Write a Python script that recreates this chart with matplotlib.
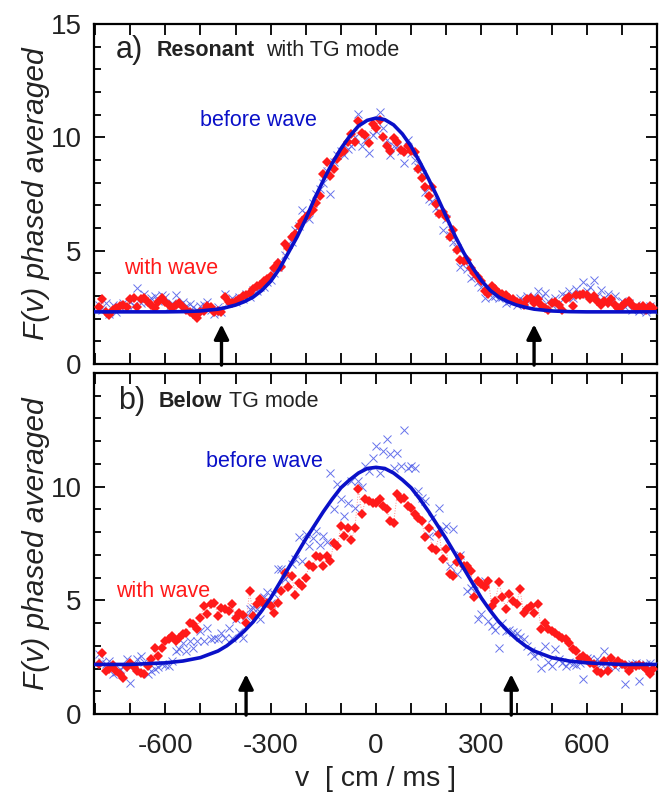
import matplotlib
matplotlib.use("Agg")
import matplotlib.pyplot as plt
import numpy as np

plt.rcParams['font.family'] = ['Liberation Sans', 'DejaVu Sans']
plt.rcParams['axes.unicode_minus'] = False

# velocity grid of the measured points, cm/ms
v_pts = np.arange(-790, 800, 10)

# a) resonant with TG mode
a_with = [2.5, 2.85, 2.3, 2.15, 2.4, 2.45, 2.55, 2.6, 2.5, 2.85,
          2.9, 2.5, 2.85, 2.9, 2.75, 2.6, 2.45, 2.75, 2.9, 2.75,
          2.6, 2.45, 2.6, 2.7, 2.5, 2.4, 2.3, 2.2, 2.05, 2.3,
          2.35, 2.55, 2.5, 2.3, 2.35, 2.3, 2.95, 2.75, 2.7, 2.8,
          2.85, 3.0, 3.05, 3.15, 3.3, 3.45, 3.5, 3.65, 3.75, 3.9,
          4.25, 4.45, 4.3, 5.3, 5.1, 5.6, 5.75, 6.1, 6.3, 6.5,
          6.6, 6.8, 7.1, 7.4, 8.4, 8.9, 8.3, 8.6, 9.05, 9.3,
          9.4, 9.8, 10.15, 9.8, 10.7, 10.2, 10.1, 9.75, 10.6, 10.4,
          10.75, 10.0, 9.6, 9.4, 9.95, 9.8, 9.45, 9.35, 9.6, 9.4,
          9.35, 8.6, 8.2, 7.8, 7.4, 7.8, 7.05, 6.6, 6.7, 6.5,
          5.6, 5.9, 5.05, 4.6, 4.55, 4.6, 4.25, 4.0, 3.85, 3.66,
          3.22, 3.07, 3.44, 3.29, 3.15, 3.1, 3.05, 2.92, 2.85, 2.75,
          2.7, 2.62, 2.85, 2.92, 2.7, 2.85, 2.6, 2.45, 2.4, 2.7,
          2.75, 2.6, 2.4, 2.85, 2.95, 2.55, 3.05, 3.05, 3.1, 3.05,
          2.85, 2.99, 2.8, 2.62, 2.77, 2.7, 2.85, 2.6, 2.47, 2.55,
          2.7, 2.77, 2.62, 2.47, 2.5, 2.55, 2.4, 2.55, 2.45]
a_before = [2.6, 2.4, 2.7, 2.2, 2.6, 2.3, 2.5, 2.7, 2.6, 2.75,
            2.6, 3.35, 2.7, 3.1, 2.8, 2.9, 3.0, 2.8, 3.05, 2.95,
            2.5, 2.7, 3.05, 2.6, 2.75, 2.55, 2.65, 2.5, 2.4, 2.55,
            2.6, 2.75, 2.4, 2.2, 2.5, 2.3, 3.1, 2.8, 2.9, 2.75,
            2.95, 2.85, 3.1, 2.95, 3.25, 3.2, 3.4, 3.4, 3.6, 3.7,
            4.0, 4.3, 4.5, 4.8, 5.3, 5.4, 5.9, 6.1, 6.8, 6.6,
            6.4, 7.1, 7.5, 7.7, 8.0, 8.5, 7.5, 8.9, 9.2, 9.4,
            9.2, 9.5, 9.6, 10.0, 11.05, 9.6, 9.9, 9.3, 10.1, 10.3,
            11.1, 10.4, 9.9, 9.2, 9.6, 9.6, 9.4, 8.85, 9.9, 9.3,
            9.0, 8.7, 8.4, 7.6, 7.3, 7.2, 6.9, 6.7, 5.9, 6.4,
            5.7, 5.4, 5.1, 4.3, 4.5, 4.2, 3.8, 3.9, 3.6, 3.4,
            2.9, 3.2, 2.95, 3.0, 2.9, 2.95, 2.7, 2.8, 2.75, 2.6,
            2.9, 2.8, 3.0, 2.85, 2.95, 3.2, 2.9, 3.15, 2.8, 2.6,
            2.9, 2.7, 3.1, 3.0, 3.2, 2.9, 3.3, 3.1, 3.6, 3.2,
            3.4, 3.7, 3.0, 3.25, 2.9, 3.1, 2.7, 3.0, 2.6, 2.8,
            2.5, 2.7, 2.4, 2.6, 2.35, 2.5, 2.3, 2.55, 2.4]

# b) below TG mode
b_with = [2.18, 2.7, 1.9, 2.0, 2.15, 1.9, 1.75, 1.6, 2.05, 2.25,
          2.05, 1.9, 1.8, 1.74, 2.1, 2.4, 2.92, 2.55, 2.9, 3.21,
          3.3, 3.43, 3.2, 3.35, 3.5, 3.58, 4.02, 3.95, 3.73, 4.24,
          4.76, 4.39, 4.83, 4.9, 4.32, 4.68, 4.6, 4.54, 4.83, 4.24,
          4.46, 4.35, 4.02, 5.42, 4.32, 4.83, 5.05, 4.85, 4.9, 4.75,
          4.46, 4.9, 5.42, 6.2, 5.6, 6.08, 5.25, 5.76, 5.64, 5.98,
          6.57, 6.45, 6.94, 6.9, 6.5, 6.94, 6.75, 7.53, 7.41, 8.26,
          7.82, 8.19, 7.67, 8.19, 9.88, 8.78, 9.44, 9.36, 9.29, 9.29,
          9.44, 9.14, 9.0, 8.48, 8.4, 9.66, 9.44, 9.51, 9.14, 9.07,
          8.78, 8.63, 8.48, 7.78, 8.19, 7.3, 7.23, 7.9, 6.82, 7.26,
          6.16, 6.08, 6.67, 6.89, 6.53, 6.5, 6.3, 5.13, 5.84, 5.72,
          5.57, 5.86, 4.76, 4.98, 5.79, 5.13, 4.61, 5.27, 4.98, 4.83,
          5.5, 4.46, 4.6, 4.76, 4.46, 4.83, 3.73, 4.02, 3.73, 3.65,
          3.58, 3.45, 3.36, 3.28, 3.14, 2.84, 2.77, 2.47, 2.55, 2.4,
          2.25, 2.18, 1.89, 1.81, 2.33, 1.89, 2.47, 2.2, 2.33, 2.2,
          2.15, 1.89, 2.1, 2.1, 2.15, 2.1, 2.0, 1.74, 2.0]
b_before = [2.62, 2.3, 2.2, 2.35, 1.74, 1.85, 2.0, 2.05, 2.4, 1.37,
            2.2, 2.4, 2.55, 2.3, 1.74, 1.9, 2.0, 2.05, 2.2, 2.15,
            2.1, 2.35, 2.77, 2.84, 3.14, 2.75, 3.21, 2.92, 3.2, 3.65,
            3.2, 3.8, 3.28, 3.35, 3.28, 3.58, 3.35, 3.8, 3.35, 4.17,
            3.6, 3.36, 4.32, 4.61, 4.68, 4.6, 4.17, 5.13, 5.35, 4.9,
            5.3, 6.38, 6.38, 5.94, 6.08, 6.6, 6.82, 7.78, 6.75, 7.9,
            7.38, 7.74, 8.04, 7.45, 7.82, 7.56, 10.6, 9.0, 10.1, 9.44,
            8.7, 9.29, 10.25, 9.07, 10.25, 10.0, 10.91, 10.7, 11.28, 11.79,
            10.6, 11.57, 12.09, 11.42, 10.8, 11.5, 10.91, 12.5, 10.84, 10.9,
            10.84, 9.81, 9.5, 9.36, 7.85, 8.63, 8.0, 9.07, 8.15, 8.26,
            6.53, 8.15, 6.16, 7.0, 6.5, 5.42, 5.54, 5.72, 4.17, 4.39,
            5.84, 4.1, 3.87, 3.7, 2.92, 4.02, 3.65, 3.7, 3.6, 3.58,
            3.4, 3.3, 3.0, 2.77, 2.55, 2.7, 2.03, 2.99, 2.3, 2.1,
            2.84, 2.4, 2.25, 2.1, 2.3, 2.2, 2.15, 2.25, 1.52, 2.45,
            2.4, 2.3, 2.4, 2.2, 2.77, 2.15, 2.25, 2.05, 2.2, 2.15,
            1.3, 2.1, 2.2, 2.25, 1.44, 2.15, 2.2, 2.25, 2.1]

# smooth "before wave" distributions
v_fit = [-800, -700, -600, -550, -500, -450, -425, -400, -375, -350, -325, -300,
         -275, -250, -225, -200, -175, -150, -125, -100, -75, -50, -25, 0,
         25, 50, 75, 100, 125, 150, 175, 200, 225, 250, 275, 300, 325, 350,
         375, 400, 425, 450, 500, 550, 600, 700, 800]
a_fit = [2.3, 2.3, 2.3, 2.31, 2.34, 2.42, 2.5, 2.6, 2.75, 2.95, 3.25, 3.65,
         4.2, 4.9, 5.6, 6.4, 7.3, 8.1, 8.85, 9.5, 10.05, 10.5, 10.75, 10.85,
         10.78, 10.55, 10.15, 9.6, 8.9, 8.15, 7.35, 6.5, 5.65, 4.9, 4.25, 3.68, 3.25, 2.95,
         2.75, 2.6, 2.5, 2.42, 2.34, 2.31, 2.3, 2.3, 2.3]
b_fit = [2.18, 2.18, 2.25, 2.33, 2.48, 2.77, 3.0, 3.3, 3.65, 4.05, 4.55, 5.1,
         5.75, 6.4, 7.05, 7.7, 8.3, 8.9, 9.45, 9.95, 10.3, 10.6, 10.8, 10.85,
         10.8, 10.6, 10.3, 9.95, 9.45, 8.9, 8.3, 7.7, 7.05, 6.4, 5.75, 5.1, 4.55, 4.05,
         3.65, 3.3, 3.0, 2.77, 2.48, 2.33, 2.25, 2.18, 2.18]

arrows_a = [-440, 450]
arrows_b = [-370, 385]

RED = '#ff1a1a'
XBLUE = '#4d5be8'
LBLUE = '#0a10c8'
TXT = '#222222'

fig = plt.figure(figsize=(6.59, 8.0), dpi=100)
ax_a = fig.add_axes([94 / 659, 1 - 364 / 800, 563 / 659, 340 / 800])
ax_b = fig.add_axes([94 / 659, 1 - 714 / 800, 563 / 659, 341 / 800])


def draw_panel(ax, with_vals, before_vals, fit_vals, arrows):
    ax.plot(v_pts, with_vals, ls=':', lw=0.7, color=RED, alpha=0.5, zorder=2)
    ax.plot(v_pts, before_vals, ls='none', marker='x', ms=5.5, mew=0.7,
            color=XBLUE, alpha=0.85, zorder=3)
    ax.plot(v_pts, with_vals, ls='none', marker='D', ms=4.8, mew=0,
            color=RED, zorder=4)
    ax.plot(v_fit, fit_vals, color=LBLUE, lw=2.6, zorder=5)
    for xa in arrows:
        ax.annotate('', xy=(xa, 1.75), xytext=(xa, -0.05),
                    arrowprops=dict(arrowstyle='-|>', lw=2.4, color='black',
                                    mutation_scale=22, shrinkA=0, shrinkB=0),
                    zorder=6)
    ax.set_xlim(-803, 785)
    ax.set_ylim(0, 15)
    ax.set_xticks([-600, -300, 0, 300, 600])
    ax.set_xticks(np.arange(-800, 801, 100), minor=True)
    ax.set_yticks(np.arange(0, 16, 1), minor=True)
    ax.tick_params(which='both', direction='in', top=True, right=True,
                   width=1.3, colors='black', labelcolor=TXT, labelsize=20)
    ax.tick_params(which='major', length=8, pad=9)
    ax.tick_params(axis='x', which='major', pad=14)
    ax.tick_params(which='minor', length=5)
    ax.tick_params(axis='x', which='minor', length=8)
    for s in ax.spines.values():
        s.set_linewidth(1.6)
    ax.set_ylabel('F(v) phased averaged', fontsize=21.5, style='italic', color=TXT)
    ax.yaxis.set_label_coords(-0.078, 0.5)


draw_panel(ax_a, a_with, a_before, a_fit, arrows_a)
draw_panel(ax_b, b_with, b_before, b_fit, arrows_b)

ax_a.set_yticks([0, 5, 10, 15])
ax_a.tick_params(axis='x', labelbottom=False)
ax_b.set_yticks([0, 5, 10, 15])
ax_b.set_yticklabels(['0', '5', '10', ''])
ax_b.set_xlabel('v  [ cm / ms ]', fontsize=20.5, color=TXT, labelpad=5)

# panel titles
ax_a.text(-742, 13.85, 'a)', fontsize=22, color=TXT, va='center')
ax_a.text(-626, 13.85, 'Resonant', fontsize=15.5, fontweight='bold', color=TXT, va='center')
ax_a.text(-313, 13.85, 'with TG mode', fontsize=15.5, color=TXT, va='center')
ax_b.text(-733, 13.75, 'b)', fontsize=22, color=TXT, va='center')
ax_b.text(-620, 13.75, 'Below', fontsize=15.5, fontweight='bold', color=TXT, va='center')
ax_b.text(-418, 13.75, 'TG mode', fontsize=15.5, color=TXT, va='center')

ax_a.text(-502, 10.75, 'before wave', fontsize=15.5, color=LBLUE, va='center')
ax_a.text(-718, 4.2, 'with wave', fontsize=15.5, color=RED, va='center')
ax_b.text(-485, 11.1, 'before wave', fontsize=15.5, color=LBLUE, va='center')
ax_b.text(-739, 5.4, 'with wave', fontsize=15.5, color=RED, va='center')

fig.savefig('out.png', dpi=100)
